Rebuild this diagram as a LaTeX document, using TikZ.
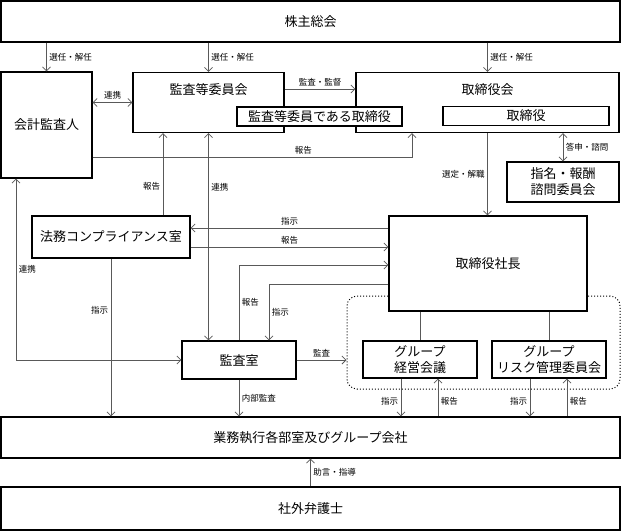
\documentclass[tikz,border=0pt]{standalone}
\usepackage{fontspec}
\setmainfont{Noto Sans CJK JP}
\usetikzlibrary{arrows.meta}
\newcommand\smw{114pt}

\begin{document}
\begin{tikzpicture}[x = 1pt, y = -1pt,
    box/.style = {rectangle, draw, line width = 1.1pt, fill = white, inner sep = 0pt, align = center, font = \fontsize{13}{16}\selectfont},
    lab/.style = {inner sep = 2.5pt, font = \fontsize{8.5}{10}\selectfont},
    con/.style = {draw = black!65, line width = 0.8pt},
    >={Straight Barb[length = 4pt, width = 8pt]}]
    \useasboundingbox (0, 0) rectangle (621, 531);

    %dotted group frame, behind the president
    \node at (483.5, 342.5) [rectangle, draw, dotted, line width = 1pt, rounded corners = 10pt, minimum width = 273pt, minimum height = 93pt] (grp) {};

    \node at (310.5, 21.5) [box, minimum width = 619pt, minimum height = 41pt] (kabu) {株主総会};
    \node at (46.5, 125) [box, minimum width = 91pt, minimum height = 106pt] (kaikei) {会計監査人};

    \node at (208.5, 102.5) [box, minimum width = 151pt, minimum height = 60pt] (iinkai) {};
    \node at (208.5, 90) [box, draw = none, fill = none] (iinkai-t) {監査等委員会};
    \node at (487.5, 102.5) [box, minimum width = 263pt, minimum height = 60pt] (torikai) {};
    \node at (487.5, 90) [box, draw = none, fill = none] (torikai-t) {取締役会};
    \node at (319.5, 116.5) [box, minimum width = 165pt, minimum height = 19pt] (iinkaidir) {監査等委員である取締役};
    \node at (526, 116) [box, minimum width = 166pt, minimum height = 19pt] (tori) {取締役};

    \node at (563, 182) [box, minimum width = 112pt, minimum height = 40pt] (shimei) {指名・報酬\\諮問委員会};
    \node at (111, 237) [box, minimum width = 158pt, minimum height = 42pt] (homu) {法務コンプライアンス室};
    \node at (488, 263.5) [box, minimum width = 198pt, minimum height = 95pt] (shacho) {取締役社長};

    \node at (239, 360) [box, minimum width = \smw, minimum height = 38pt] (kansa) {監査室};
    \node at (420, 359.5) [box, minimum width = \smw, minimum height = 37pt] (gkeiei) {グループ\\経営会議};
    \node at (549, 359.5) [box, minimum width = \smw, minimum height = 37pt] (grisk) {グループ\\リスク管理委員会};

    \node at (310.5, 437.5) [box, minimum width = 619pt, minimum height = 41pt] (gyomu) {業務執行各部室及びグループ会社};
    \node at (310.5, 508.5) [box, minimum width = 619pt, minimum height = 43pt] (bengo) {社外弁護士};

    %shareholders
    \draw [con, ->] (kabu.south -| kaikei.north) -- (kaikei.north) node[midway, right, lab] {選任・解任};
    \draw [con, ->] (kabu.south -| iinkai.north) -- (iinkai.north) node[midway, right, lab] {選任・解任};
    \draw [con, ->] (kabu.south -| torikai.north) -- (torikai.north) node[midway, right, lab] {選任・解任};

    %auditors and board
    \draw [con, <->] (kaikei.east |- iinkai.west) -- (iinkai.west) node[midway, above, lab] {連携};
    \coordinate (ia) at ([yshift = 13.5pt]iinkai.east);
    \draw [con, ->] (ia) -- (ia -| torikai.west) node[midway, above, lab] {監査・監督};
    \coordinate (kr) at ([yshift = -32pt]kaikei.east);
    \coordinate (tr) at ([xshift = -75.5pt]torikai.south);
    \draw [con, ->] (kr) -| (tr) node[pos = 0.33, above, lab] {報告};
    \draw [con, ->] (torikai.south) -- (torikai.south |- shacho.north) node[midway, left, lab] {選定・解職};
    \draw [con, <->] (shimei.north |- torikai.south) -- (shimei.north) node[midway, right, lab] {答申・諮問};

    %compliance office
    \coordinate (hr) at ([xshift = 52pt]homu.north);
    \draw [con, ->] (hr) -- (hr |- iinkai.south) node[pos = 0.35, left, lab] {報告};
    \coordinate (si) at ([yshift = 35.5pt]shacho.west);
    \draw [con, ->] (si) -- (si -| homu.east) node[midway, above, lab] {指示};
    \coordinate (hh) at ([yshift = -10pt]homu.east);
    \draw [con, ->] (hh) -- (hh -| shacho.west) node[midway, above, lab] {報告};
    \draw [con, ->] (homu.south) -- (homu.south |- gyomu.north) node[pos = 0.33, left, lab] {指示};

    %audit office
    \draw [con, <->] (iinkai.south) -- (iinkai.south |- kansa.north) node[pos = 0.26, right, lab] {連携};
    \coordinate (sk) at ([yshift = -1.5pt]shacho.west);
    \draw [con, ->] (kansa.north) |- (sk) node[pos = 0.25, right, lab] {報告};
    \coordinate (sj) at ([yshift = -20.5pt]shacho.west);
    \coordinate (kj) at ([xshift = 30pt]kansa.north);
    \draw [con, ->] (sj) -| (kj) node[pos = 0.75, right, lab] {指示};
    \coordinate (kl) at ([xshift = -30.5pt]kaikei.south);
    \draw [con, <->] (kl) |- (kansa.west) node[pos = 0.25, right, lab] {連携};
    \draw [con, ->] (kansa.south) -- (kansa.south |- gyomu.north) node[midway, right, lab] {内部監査};
    \draw [con, ->] (kansa.east) -- (kansa.east -| grp.west) node[midway, above, lab] {監査};

    %group meetings
    \draw [con] (gkeiei.north |- shacho.south) -- (gkeiei.north);
    \draw [con] (grisk.north |- shacho.south) -- (grisk.north);
    \coordinate (gs) at ([xshift = -19pt]gkeiei.south);
    \coordinate (gr) at ([xshift = 18pt]gkeiei.south);
    \draw [con, ->] (gs) -- (gs |- gyomu.north) node[pos = 0.6, left, lab] {指示};
    \draw [con, <-] (gr) -- (gr |- gyomu.north) node[pos = 0.6, right, lab] {報告};
    \coordinate (rs) at ([xshift = -19pt]grisk.south);
    \coordinate (rr) at ([xshift = 18pt]grisk.south);
    \draw [con, ->] (rs) -- (rs |- gyomu.north) node[pos = 0.6, left, lab] {指示};
    \draw [con, <-] (rr) -- (rr |- gyomu.north) node[pos = 0.6, right, lab] {報告};

    %outside lawyers
    \draw [con, ->] (bengo.north) -- (gyomu.south) node[midway, right, lab] {助言・指導};
\end{tikzpicture}
\end{document}
